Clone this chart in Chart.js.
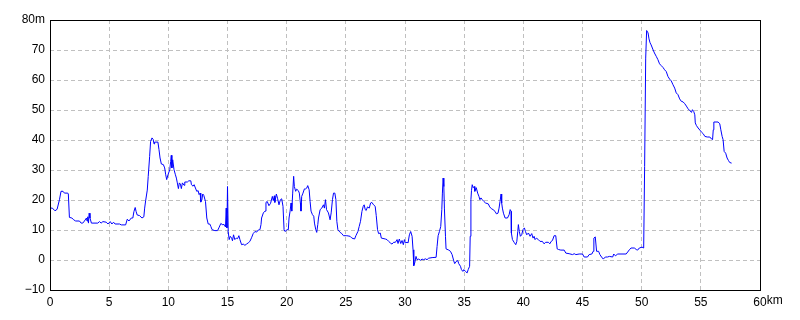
<!DOCTYPE html>
<html lang="ja">
<head>
    <meta charset="UTF-8">
    <title>Elevation profile</title>
    <script src="https://cdn.jsdelivr.net/npm/chart.js"></script>
    <style>
        body {
            margin: 0;
            padding: 0;
            background: #ffffff;
        }
        canvas {
            display: block;
        }
    </style>
</head>
<body>
    <canvas id="profileChart" width="800" height="320"></canvas>

    <script>
        // distance along the route (km) and elevation (m)
        const distKm = [
            0, 0.2, 0.42, 0.6, 0.8, 0.93, 1.1, 1.22, 1.5, 1.55, 1.64, 1.85, 2.0, 2.17, 2.49, 2.63, 2.77, 2.91, 3.08, 3.13,
            3.19, 3.25, 3.31, 3.38, 3.5, 4.04, 4.18, 4.32, 4.47, 4.75, 4.9, 5.09, 5.23, 5.37, 5.5, 5.88, 6.02, 6.39, 6.53, 6.67,
            6.87, 7.0, 7.09, 7.2, 7.28, 7.37, 7.57, 7.77, 7.93, 8.0, 8.08, 8.22, 8.3, 8.42, 8.5, 8.62, 8.72, 8.79, 8.84, 9.12,
            9.21, 9.3, 9.41, 9.58, 9.69, 9.78, 9.86, 9.97, 10.12, 10.2, 10.25, 10.3, 10.37, 10.48, 10.6, 10.68, 10.76, 10.85, 10.93, 11.02,
            11.1, 11.19, 11.33, 11.39, 11.61, 11.73, 11.9, 11.95, 12.09, 12.18, 12.29, 12.4, 12.52, 12.6, 12.69, 12.74, 12.83, 12.91, 13.0, 13.14,
            13.25, 13.37, 13.5, 13.59, 13.7, 13.93, 14.16, 14.27, 14.44, 14.55, 14.72, 14.83, 14.89, 14.95, 15.0, 15.06, 15.14, 15.23, 15.35, 15.42,
            15.51, 15.62, 15.74, 15.85, 15.96, 16.05, 16.19, 16.33, 16.47, 16.61, 16.75, 16.89, 17.03, 17.17, 17.32, 17.46, 17.6, 17.74, 17.83, 17.88,
            18.03, 18.17, 18.25, 18.36, 18.5, 18.64, 18.79, 18.87, 18.96, 19.0, 19.13, 19.24, 19.35, 19.47, 19.58, 19.69, 19.78, 19.86, 20.03, 20.14,
            20.2, 20.29, 20.37, 20.43, 20.51, 20.59, 20.65, 20.76, 20.85, 20.99, 21.07, 21.16, 21.21, 21.27, 21.38, 21.5, 21.61, 21.7, 21.78, 21.9,
            21.98, 22.06, 22.18, 22.29, 22.35, 22.46, 22.54, 22.63, 22.69, 22.83, 22.97, 23.11, 23.19, 23.28, 23.37, 23.53, 23.67, 23.76, 23.87, 23.96,
            24.07, 24.16, 24.24, 24.33, 24.52, 24.66, 24.8, 25.08, 25.36, 25.51, 25.74, 25.85, 26.02, 26.13, 26.24, 26.36, 26.47, 26.55, 26.64, 26.72,
            26.83, 26.98, 27.09, 27.2, 27.34, 27.48, 27.57, 27.68, 27.77, 27.91, 28.0, 28.34, 28.48, 28.62, 28.76, 28.9, 29.04, 29.19, 29.33, 29.41,
            29.52, 29.64, 29.75, 29.86, 29.95, 30.03, 30.17, 30.26, 30.37, 30.48, 30.6, 30.68, 30.74, 30.82, 30.93, 31.02, 31.16, 31.3, 31.44, 31.58,
            31.72, 31.86, 32.0, 32.29, 32.63, 32.71, 32.8, 32.91, 33.02, 33.11, 33.16, 33.22, 33.28, 33.33, 33.42, 33.47, 33.7, 33.84, 33.98, 34.12,
            34.2, 34.32, 34.46, 34.54, 34.69, 34.77, 34.89, 34.97, 35.11, 35.25, 35.34, 35.46, 35.51, 35.57, 35.62, 35.68, 35.76, 35.85, 35.9, 36.02,
            36.14, 36.25, 36.33, 36.42, 36.53, 36.67, 36.81, 37.04, 37.16, 37.3, 37.44, 37.61, 37.72, 37.86, 37.95, 38.03, 38.12, 38.17, 38.23, 38.32,
            38.46, 38.66, 38.8, 38.89, 38.97, 38.99, 39.08, 39.22, 39.36, 39.45, 39.53, 39.58, 39.66, 39.75, 39.86, 39.97, 40.09, 40.18, 40.29, 40.43,
            40.57, 40.71, 40.82, 40.91, 40.99, 41.1, 41.27, 41.41, 41.61, 41.75, 41.89, 42.12, 42.24, 42.35, 42.46, 42.6, 42.74, 42.86, 42.97, 43.17,
            43.45, 43.59, 43.87, 44.16, 44.3, 44.44, 44.72, 45.0, 45.14, 45.42, 45.56, 45.79, 45.9, 45.96, 46.08, 46.19, 46.36, 46.47, 46.61, 46.76,
            46.93, 47.12, 47.27, 47.55, 47.64, 47.78, 47.98, 48.69, 48.96, 49.1, 49.38, 49.58, 49.66, 49.8, 50.03, 50.17, 50.25, 50.34, 50.42, 50.54,
            50.62, 50.71, 50.8, 50.94, 51.08, 51.23, 51.37, 51.51, 51.65, 51.8, 51.94, 52.08, 52.22, 52.36, 52.5, 52.65, 52.79, 52.92, 53.07, 53.21,
            53.35, 53.5, 53.64, 53.78, 53.92, 54.07, 54.21, 54.29, 54.4, 54.49, 54.53, 54.63, 54.77, 54.92, 55.06, 55.2, 55.34, 55.54, 55.76, 55.91,
            55.99, 56.05, 56.1, 56.46, 56.6, 56.69, 56.8, 56.88, 56.97, 57.1, 57.22, 57.33, 57.44, 57.6
        ];
        const elevM = [
            17.3, 17.3, 16.4, 16.9, 20.1, 22.9, 22.9, 22.3, 22.3, 22, 14.2, 14, 13.4, 13, 13, 12.3, 12.3, 13, 14, 13,
            14.4, 12.3, 15.6, 14, 12.3, 12.3, 12.8, 12.3, 12.8, 12.6, 12, 12.8, 12, 12.6, 12, 12, 11.7, 11.7, 13.6, 13,
            14, 14, 16.1, 17.5, 16.1, 15, 14.8, 14, 14.4, 17.3, 19.7, 23.3, 27.8, 34.5, 39.5, 40.7, 40.2, 38.7, 39.3, 39.3,
            36.8, 34, 32, 31.8, 30.7, 28.4, 26.8, 28.4, 30.1, 32.9, 34.9, 30.7, 33.4, 30.1, 28.4, 27.3, 25.7, 23.8, 25.7, 25.3,
            23.8, 25.7, 24.9, 26, 26, 26.4, 26.4, 25.1, 24.6, 25.1, 24, 22.9, 23.1, 21.8, 22.3, 19.3, 20, 22, 21.5, 19.5,
            14, 12, 12, 11.2, 10.1, 9.8, 9.8, 10.7, 12.2, 11.8, 11.8, 11, 17.3, 10.7, 24.5, 9.5, 6.8, 7.9, 7.3, 6.4,
            8.4, 6.8, 7.3, 7.1, 8.1, 6.8, 5.1, 5.3, 4.9, 5.3, 5.7, 6.2, 7.4, 8.8, 9.5, 9.3, 10, 10.1, 11.8, 14,
            15.7, 16.3, 19.2, 19.5, 18.1, 18.9, 21.2, 19.8, 21.4, 19.2, 22, 20.4, 18.4, 20.1, 20.4, 17.9, 10.1, 9.5, 10.1, 10.1,
            14, 16.3, 19, 16.3, 22.3, 27.9, 24.5, 22.9, 23.6, 23.1, 22.3, 19, 16.3, 21.2, 22.3, 23.7, 23.7, 24, 24.8, 23.4,
            19.5, 16.3, 15.1, 14.6, 12.3, 10.1, 9.2, 11.8, 14, 16.8, 17.3, 18.4, 17.3, 20.1, 16.8, 15.7, 13.4, 15.7, 20.1, 22.3,
            22.3, 20.1, 12.9, 10.1, 9.2, 8.8, 8.1, 8.1, 7.9, 7.3, 7, 8.1, 9.5, 11.2, 12.9, 16.2, 17.9, 18.4, 16.8, 16.5,
            17.7, 17.3, 19, 19.2, 18.4, 17.9, 14.8, 10.1, 8.8, 9, 7.3, 7, 6.8, 6.2, 5.7, 5.3, 5.9, 5.9, 6.8, 5.5,
            7, 5.5, 6.5, 5.1, 6.8, 5.7, 5.9, 5.7, 8.4, 9.5, 7.9, 3.4, -1.9, -1, 1.2, 0.1, 0.3, -0.1, 0.3, 0.1,
            0.4, 0.1, 0.6, 0.8, 0.9, 4.5, 8.1, 9.5, 11.2, 16.8, 22.3, 27.3, 24.5, 17.3, 7.9, 3.7, 3.3, 2.9, 1.8, -0.3,
            -1.2, -0.5, -0.2, -1.2, -2.1, -3.2, -3.8, -3.2, -3.8, -4.3, -3.2, -2.1, 7.9, 20.1, 23.2, 25.1, 24.1, 24.5, 22.9, 24.1,
            22.3, 21.2, 20.1, 20.7, 20.1, 19.5, 19, 18.7, 17.7, 17.1, 16.8, 16.2, 15.4, 15.6, 17.3, 19.5, 22, 19, 17.3, 15.6,
            14, 14, 15.1, 16.8, 16.2, 9, 6.8, 5.9, 5.1, 6.2, 9.5, 11.8, 9.5, 7.9, 8.4, 10.1, 10.7, 9.5, 8.4, 9,
            7.9, 8.8, 7.3, 7.9, 6.8, 7.3, 6.8, 6.2, 6.2, 5.4, 5.9, 5.9, 5.4, 6.2, 6.5, 8.1, 8.1, 3.7, 3.5, 3.3,
            3.3, 2.3, 2.1, 1.8, 2.1, 1.8, 2, 2, 1, 1, 1.8, 2, 2.9, 7.3, 7.7, 2.9, 2.9, 1.8, 1, 0.3,
            1, 1, 1.2, 1, 2, 1.4, 2, 2, 3.4, 4, 4, 3.4, 3.3, 4, 4.3, 4, 31.2, 67.3, 76.5, 75.7,
            73.7, 72.4, 71.7, 70.3, 69, 67.9, 66.8, 65.4, 64.8, 64.2, 63.4, 62.8, 61.2, 60.3, 59.7, 58.4, 57.3, 55.7, 55.1, 53.7,
            52.9, 52.7, 52.1, 51.3, 50.4, 49.8, 49.2, 50.1, 49.5, 48.4, 45.7, 44.8, 44, 43.3, 42.6, 42.1, 41.2, 41, 41, 40.3,
            40.1, 43.4, 46, 46, 45.4, 43.4, 41.2, 40.1, 36.2, 35.6, 34, 33.2, 32.5, 32.3
        ];

        // axis ranges and units
        const xMin = 0, xMax = 60, xStep = 5, xUnit = 'km';
        const yMin = -10, yMax = 80, yStep = 10, yUnit = 'm';

        const labelFont = { family: '"Liberation Sans", Arial, sans-serif', size: 12 };

        // black frame round the plot, plus the "km" after the last x label
        const framePlugin = {
            id: 'frame',
            afterDraw(chart) {
                const ctx = chart.ctx;
                const a = chart.chartArea;
                const xs = chart.scales.x;
                ctx.save();
                ctx.strokeStyle = '#000000';
                ctx.lineWidth = 1;
                ctx.strokeRect(Math.round(a.left) + 0.5, Math.round(a.top) + 0.5,
                    Math.round(a.right - a.left), Math.round(a.bottom - a.top));
                ctx.font = labelFont.size + 'px ' + labelFont.family;
                ctx.fillStyle = '#000000';
                ctx.textAlign = 'left';
                ctx.textBaseline = 'middle';
                const px = xs.getPixelForValue(xMax);
                const w = ctx.measureText(String(xMax)).width;
                ctx.fillText(xUnit, px + w / 2, a.bottom + 11);
                ctx.restore();
            }
        };

        new Chart(document.getElementById('profileChart'), {
            type: 'line',
            data: {
                datasets: [{
                    data: distKm.map((d, i) => ({ x: d, y: elevM[i] })),
                    borderColor: '#0000ff',
                    borderWidth: 1,
                    pointRadius: 0,
                    tension: 0,
                    fill: false
                }]
            },
            options: {
                responsive: false,
                animation: false,
                layout: { padding: { top: 20, right: 40, bottom: 0, left: 0 } },
                plugins: {
                    legend: { display: false },
                    tooltip: { enabled: false }
                },
                scales: {
                    x: {
                        type: 'linear',
                        min: xMin,
                        max: xMax,
                        afterFit: s => { s.height = 30; },
                        grid: { color: '#c0c0c0', drawTicks: false },
                        border: { display: false, dash: [4, 3] },
                        ticks: {
                            stepSize: xStep,
                            color: '#000000',
                            font: labelFont,
                            padding: 5,
                            maxRotation: 0,
                            autoSkip: false
                        }
                    },
                    y: {
                        min: yMin,
                        max: yMax,
                        afterFit: s => { s.width = 50; },
                        grid: { color: '#c0c0c0', drawTicks: false },
                        border: { display: false, dash: [4, 3] },
                        ticks: {
                            stepSize: yStep,
                            color: '#000000',
                            font: labelFont,
                            padding: 5,
                            callback: v => v === yMax ? v + yUnit : (v < 0 ? '\u2212' + (-v) : String(v))
                        }
                    }
                }
            },
            plugins: [framePlugin]
        });
    </script>
</body>
</html>
